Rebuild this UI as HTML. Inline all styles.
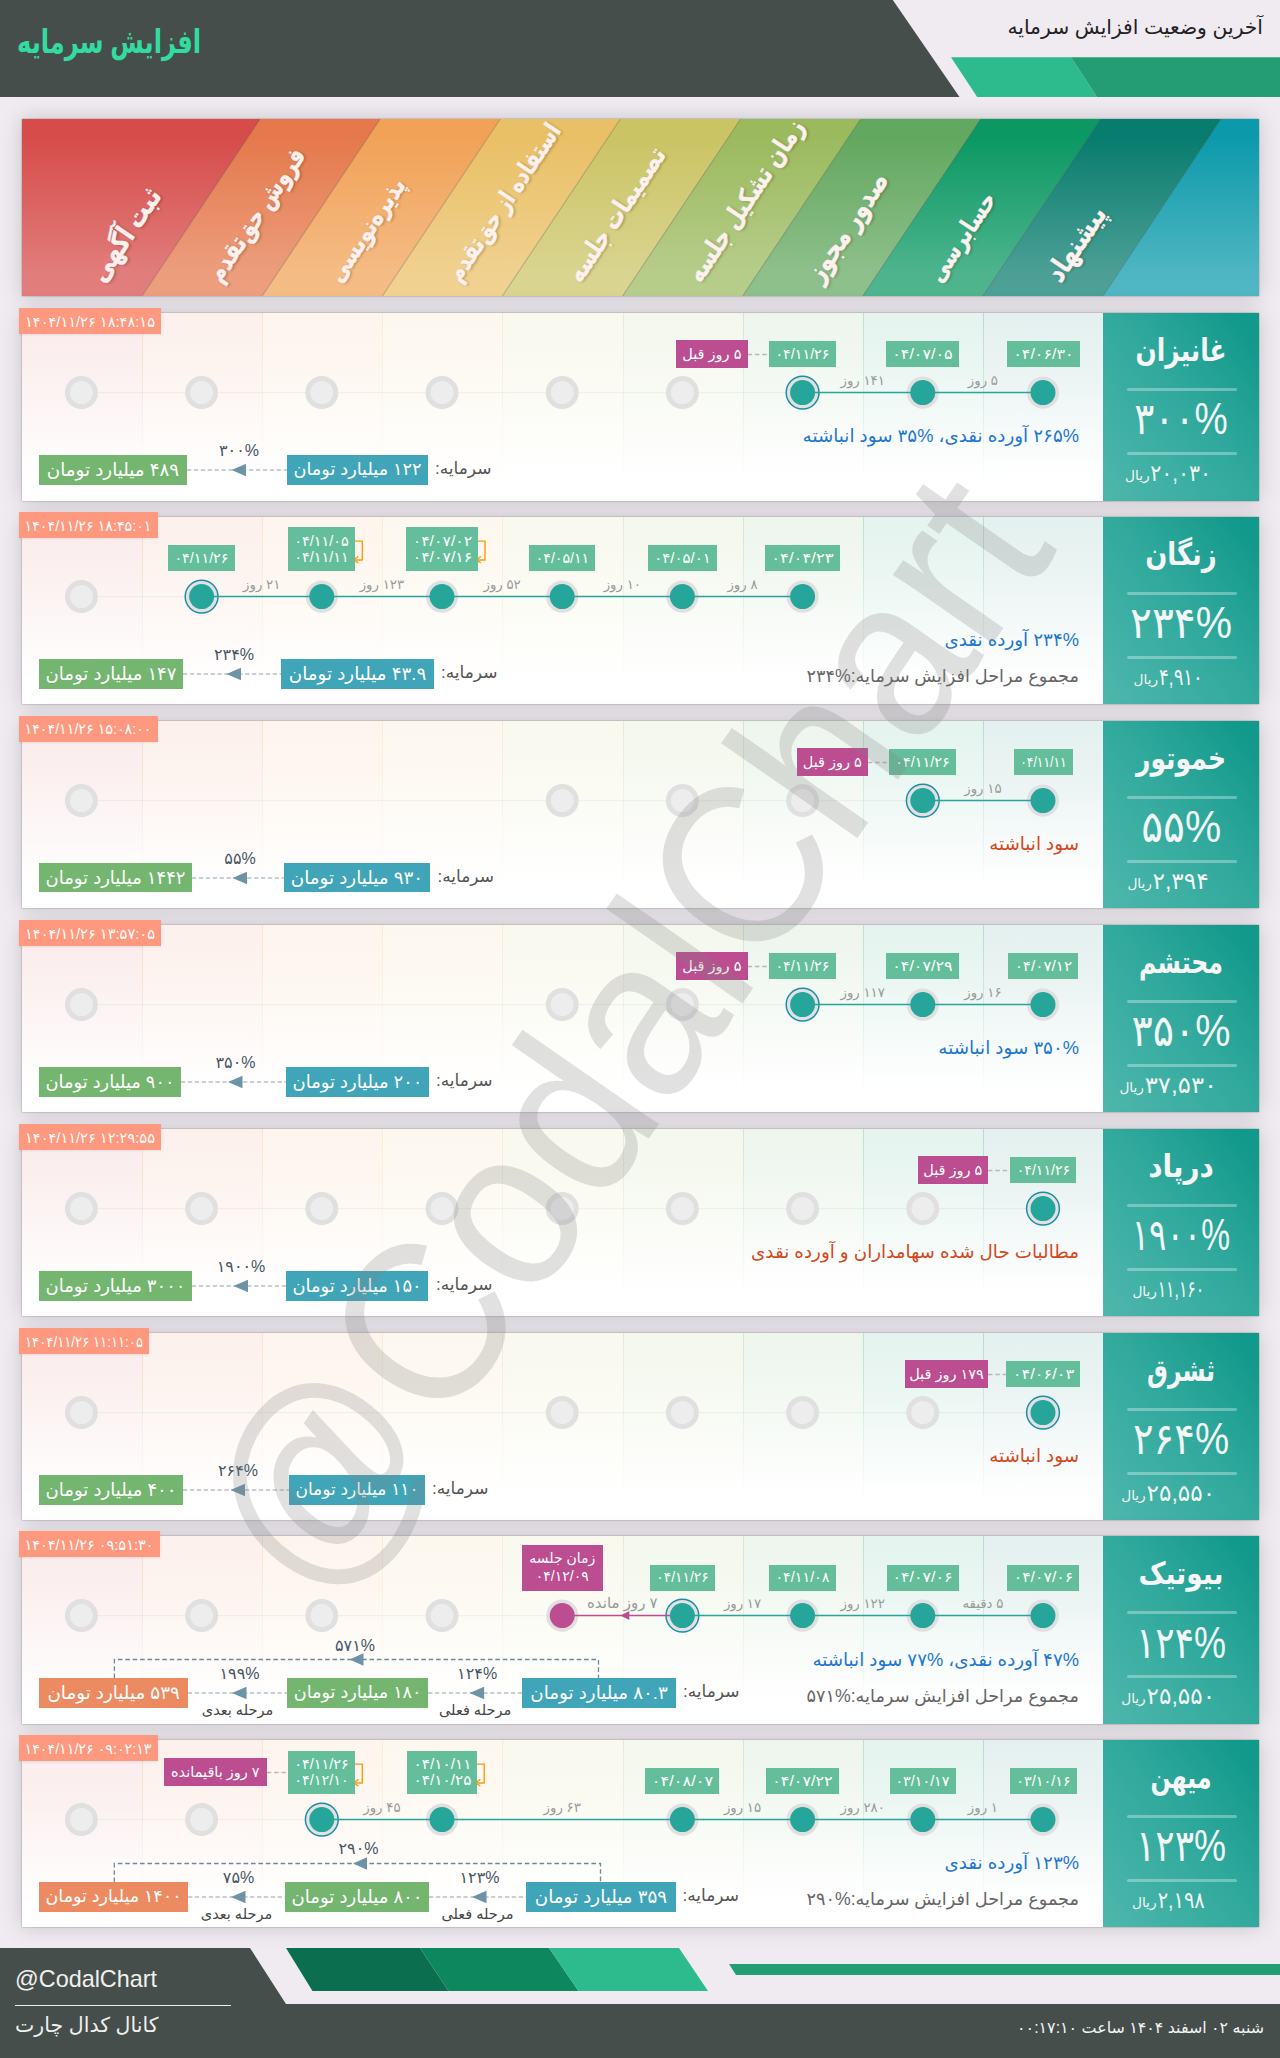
<!DOCTYPE html>
<html lang="fa"><head><meta charset="utf-8"><title>افزایش سرمایه</title>
<style>
*{box-sizing:border-box;margin:0;padding:0}
html,body{width:1280px;height:2058px;overflow:hidden}
body{background:#efebf1;position:relative;font-family:"Liberation Sans","DejaVu Sans",sans-serif;color:#333}
.abs{position:absolute}
.fa{direction:rtl;unicode-bidi:isolate;white-space:nowrap}
.ltr{direction:ltr;unicode-bidi:isolate;white-space:nowrap}
.sx{display:inline-block}
.c{display:flex;align-items:center;justify-content:center;white-space:nowrap}
.hdr-title{left:17px;top:17px;width:300px;height:50px;line-height:50px;color:#33dba0;font-weight:bold;font-size:33px;text-align:left;transform-origin:0 50%;transform:scaleX(.733)}
.hdr-sub{left:900px;top:12px;width:363px;height:30px;line-height:30px;color:#222;font-size:20.3px;text-align:right}
.band{left:22px;top:119px;width:1237px;height:177px;box-shadow:0 0 20px rgba(0,0,0,.17),0 0 1.5px rgba(0,0,0,.4);overflow:hidden}
.slabel{position:absolute;height:40px;line-height:40px;color:#fdf1ee;font-weight:bold;font-size:21px;transform-origin:0 50%;transform:rotate(-56.3deg) scaleX(.8);text-shadow:1px 2px 3px rgba(0,0,0,.22);-webkit-text-stroke:.4px #fdf1ee;white-space:nowrap;direction:rtl}
.row{position:absolute;left:0;width:1280px;height:188px}
.card{position:absolute;left:22px;top:0;width:1237px;height:188px;background:#fff;box-shadow:0 0 20px rgba(0,0,0,.17),0 0 1.5px rgba(0,0,0,.4)}
.col{position:absolute;top:0;height:100%}
.name{position:absolute;left:1081px;top:0;width:156px;height:100%;background:linear-gradient(232deg,#11998b 8%,#2fa89c 45%,#4fb7ac 100%)}
.nm{left:1083px;width:196px;top:15.5px;height:44px;color:#f6f6f6;font-weight:bold;font-size:31px;transform:scaleX(.806)}
.pct{left:1083px;width:196px;top:82px;height:48px;color:#f3f7f6;font-size:44px}
.prc{top:147.2px;height:26px;line-height:26px;color:#f3f7f6;font-size:23px;transform-origin:100% 50%}
.prs{top:151px;height:24px;line-height:24px;color:#f3f7f6;font-size:13.7px}
.hr{position:absolute;left:1126.5px;width:110px;height:3px;border-radius:2px;background:rgba(255,255,255,.32)}
.ts{left:19px;height:25.6px;background:#fe9980;color:#fff;font-size:14.6px;box-shadow:0 1px 2px rgba(0,0,0,.08)}
.tag{background:#65be9b;color:#fff;font-size:14px;line-height:16.7px;text-align:center;flex-direction:column}
.pink{background:#bb4d90;color:#fff;font-size:14.5px;line-height:18px;flex-direction:column}
.dur{color:#999;font-size:13.3px;height:18px}
.desc{left:600px;width:479px;height:26px;line-height:26px;font-size:18.3px;text-align:right}
.blue{color:#1e76d2}
.red{color:#d4481c}
.grey{color:#666;font-size:17.7px}
.cap{height:29px;color:#fff;font-size:18.3px}
.cb{background:#40a5b8}
.cg{background:#74b570}
.co{background:#ec8b62}
.caplbl{height:29px;line-height:29px;color:#555;font-size:17px;text-align:left}
.cpct{color:#445564;font-size:16px;height:20px}
.cstage{color:#444;font-size:14.5px;height:18px}
.wm{left:625px;top:1035px;width:0;height:0;overflow:visible}
.wm span{position:absolute;left:0;top:0;display:block;white-space:nowrap;font-size:229px;line-height:1;color:rgba(128,128,128,.24);transform:translate(-50%,-50%) rotate(-55.2deg) scaleX(.93);font-family:"Liberation Sans",sans-serif}
.ft1{left:15px;top:1964px;height:30px;line-height:30px;font-size:23.4px;color:#f0f0f0;text-align:left}
.ft2{left:15px;top:2010px;height:30px;line-height:30px;width:300px;font-size:20.5px;color:#f0f0f0;text-align:left}
.ft3{left:900px;top:2014px;height:28px;line-height:28px;width:364px;font-size:15.9px;color:#f4f4f4;text-align:right}
</style></head>
<body>
<svg class="abs" style="left:0;top:0" width="1280" height="100" viewBox="0 0 1280 100">
<polygon points="0,0 892.8,0 959.5,97 0,97" fill="#454e4a"/>
<polygon points="951,57.3 1071,57.3 1097,97 977.2,97" fill="#2dba8c"/>
<polygon points="1071,57.3 1280,57.3 1280,97 1097,97" fill="#249d74"/>
</svg>
<div class="abs fa hdr-title">افزایش سرمایه</div>
<div class="abs fa hdr-sub">آخرین وضعیت افزایش سرمایه</div>
<div class="abs band"><svg class="abs" style="left:0;top:0" width="1237" height="177" viewBox="0 0 1237 177"><defs><linearGradient id="lg" x1="0" y1="0" x2="0" y2="1"><stop offset="0.1" stop-color="#fff" stop-opacity="0"/><stop offset="0.86" stop-color="#fff" stop-opacity="0.27"/><stop offset="1" stop-color="#fff" stop-opacity="0.28"/></linearGradient></defs><polygon points="0.0,177 0.0,0 238.1,0 120.1,177" fill="#d64c4a"/><polygon points="120.1,177 238.1,0 358.2,0 240.2,177" fill="#e5794c"/><polygon points="240.2,177 358.2,0 478.3,0 360.3,177" fill="#f1a257"/><polygon points="360.3,177 478.3,0 598.4,0 480.4,177" fill="#eac066"/><polygon points="480.4,177 598.4,0 718.6,0 600.6,177" fill="#cbc465"/><polygon points="600.6,177 718.6,0 838.7,0 720.7,177" fill="#9bba5e"/><polygon points="720.7,177 838.7,0 958.8,0 840.8,177" fill="#63a85f"/><polygon points="840.8,177 958.8,0 1078.9,0 960.9,177" fill="#0b9863"/><polygon points="960.9,177 1078.9,0 1199.0,0 1081.0,177" fill="#087c6e"/><polygon points="1081.0,177 1199.0,0 1237.0,0 1237.0,177" fill="#0c9aab"/><rect x="0" y="0" width="1237" height="177" fill="url(#lg)"/><line x1="120.1" y1="177" x2="238.1" y2="0" stroke="rgba(0,0,0,.2)" stroke-width="1.1"/><line x1="240.2" y1="177" x2="358.2" y2="0" stroke="rgba(0,0,0,.2)" stroke-width="1.1"/><line x1="360.3" y1="177" x2="478.3" y2="0" stroke="rgba(0,0,0,.2)" stroke-width="1.1"/><line x1="480.4" y1="177" x2="598.4" y2="0" stroke="rgba(0,0,0,.2)" stroke-width="1.1"/><line x1="600.6" y1="177" x2="718.6" y2="0" stroke="rgba(0,0,0,.2)" stroke-width="1.1"/><line x1="720.7" y1="177" x2="838.7" y2="0" stroke="rgba(0,0,0,.2)" stroke-width="1.1"/><line x1="840.8" y1="177" x2="958.8" y2="0" stroke="rgba(0,0,0,.2)" stroke-width="1.1"/><line x1="960.9" y1="177" x2="1078.9" y2="0" stroke="rgba(0,0,0,.2)" stroke-width="1.1"/><line x1="1081.0" y1="177" x2="1199.0" y2="0" stroke="rgba(0,0,0,.2)" stroke-width="1.1"/></svg><div class="slabel" style="left:74.1px;top:140px;font-size:28.125px">ثبت آگهی</div><div class="slabel" style="left:190.7px;top:140px;font-size:25.5px">فروش حق‌تقدم</div><div class="slabel" style="left:310.8px;top:140px;font-size:25.0px">پذیره‌نویسی</div><div class="slabel" style="left:430.9px;top:140px;font-size:24.375px">استفاده از حق‌تقدم</div><div class="slabel" style="left:551.0px;top:140px;font-size:25.875px">تصمیمات جلسه</div><div class="slabel" style="left:671.1px;top:140px;font-size:26.25px">زمان تشکیل جلسه</div><div class="slabel" style="left:791.2px;top:140px;font-size:28.125px">صدور مجوز</div><div class="slabel" style="left:911.3px;top:140px;font-size:25.0px">حسابرسی</div><div class="slabel" style="left:1031.4px;top:140px;font-size:28.125px">پیشنهاد</div></div>
<div class="row" style="top:312.80px;height:188.0px"><div class="card" style="height:188.0px"><div class="col" style="left:0.00px;width:120.11px;background:linear-gradient(to bottom,rgba(214,76,74,.11) 0%,rgba(214,76,74,.09) 25%,rgba(214,76,74,.0) 88%)"></div><div class="col" style="left:120.11px;width:120.11px;background:linear-gradient(to bottom,rgba(229,121,76,.2) 0%,rgba(229,121,76,.13) 35%,rgba(229,121,76,.0) 92%) left top/1px 100% no-repeat,linear-gradient(to bottom,rgba(229,121,76,.11) 0%,rgba(229,121,76,.09) 25%,rgba(229,121,76,.0) 88%)"></div><div class="col" style="left:240.22px;width:120.11px;background:linear-gradient(to bottom,rgba(241,162,87,.2) 0%,rgba(241,162,87,.13) 35%,rgba(241,162,87,.0) 92%) left top/1px 100% no-repeat,linear-gradient(to bottom,rgba(241,162,87,.11) 0%,rgba(241,162,87,.09) 25%,rgba(241,162,87,.0) 88%)"></div><div class="col" style="left:360.33px;width:120.11px;background:linear-gradient(to bottom,rgba(234,192,102,.2) 0%,rgba(234,192,102,.13) 35%,rgba(234,192,102,.0) 92%) left top/1px 100% no-repeat,linear-gradient(to bottom,rgba(234,192,102,.11) 0%,rgba(234,192,102,.09) 25%,rgba(234,192,102,.0) 88%)"></div><div class="col" style="left:480.44px;width:120.11px;background:linear-gradient(to bottom,rgba(203,196,101,.2) 0%,rgba(203,196,101,.13) 35%,rgba(203,196,101,.0) 92%) left top/1px 100% no-repeat,linear-gradient(to bottom,rgba(203,196,101,.11) 0%,rgba(203,196,101,.09) 25%,rgba(203,196,101,.0) 88%)"></div><div class="col" style="left:600.56px;width:120.11px;background:linear-gradient(to bottom,rgba(155,186,94,.2) 0%,rgba(155,186,94,.13) 35%,rgba(155,186,94,.0) 92%) left top/1px 100% no-repeat,linear-gradient(to bottom,rgba(155,186,94,.11) 0%,rgba(155,186,94,.09) 25%,rgba(155,186,94,.0) 88%)"></div><div class="col" style="left:720.67px;width:120.11px;background:linear-gradient(to bottom,rgba(99,168,95,.2) 0%,rgba(99,168,95,.13) 35%,rgba(99,168,95,.0) 92%) left top/1px 100% no-repeat,linear-gradient(to bottom,rgba(99,168,95,.11) 0%,rgba(99,168,95,.09) 25%,rgba(99,168,95,.0) 88%)"></div><div class="col" style="left:840.78px;width:120.11px;background:linear-gradient(to bottom,rgba(11,152,99,.2) 0%,rgba(11,152,99,.13) 35%,rgba(11,152,99,.0) 92%) left top/1px 100% no-repeat,linear-gradient(to bottom,rgba(11,152,99,.11) 0%,rgba(11,152,99,.09) 25%,rgba(11,152,99,.0) 88%)"></div><div class="col" style="left:960.89px;width:120.11px;background:linear-gradient(to bottom,rgba(8,124,110,.2) 0%,rgba(8,124,110,.13) 35%,rgba(8,124,110,.0) 92%) left top/1px 100% no-repeat,linear-gradient(to bottom,rgba(8,124,110,.11) 0%,rgba(8,124,110,.09) 25%,rgba(8,124,110,.0) 88%)"></div><div class="name"></div></div><div class="abs c fa nm" style="transform:scaleX(0.802)">غانیزان</div><div class="hr" style="top:75.2px"></div><div class="abs c pct"><span class="ltr sx" style="transform:scaleX(0.850)">۳۰۰%</span></div><div class="hr" style="top:139.4px"></div><div class="abs fa prs" style="left:1125.1px">ریال</div><div class="abs ltr prc" style="right:68.7px;transform:scaleX(0.894)">۲۰,۰۳۰</div><div class="abs c ts" style="top:-4.6px;width:142px"><span class="ltr sx" style="transform:scaleX(1.000)">۱۴۰۴/۱۱/۲۶ ۱۸:۴۸:۱۵</span></div><svg class="abs" style="left:0;top:0" width="1280" height="188" viewBox="0 0 1280 188"><line x1="81.4" y1="79.6" x2="1043.0" y2="79.6" stroke="#000" stroke-opacity=".045" stroke-width="1.2"/><circle cx="81.4" cy="79.6" r="14" fill="#ededed" stroke="#e0e0e0" stroke-width="5"/><circle cx="201.6" cy="79.6" r="14" fill="#ededed" stroke="#e0e0e0" stroke-width="5"/><circle cx="321.8" cy="79.6" r="14" fill="#ededed" stroke="#e0e0e0" stroke-width="5"/><circle cx="442.0" cy="79.6" r="14" fill="#ededed" stroke="#e0e0e0" stroke-width="5"/><circle cx="562.2" cy="79.6" r="14" fill="#ededed" stroke="#e0e0e0" stroke-width="5"/><circle cx="682.4" cy="79.6" r="14" fill="#ededed" stroke="#e0e0e0" stroke-width="5"/><circle cx="1043.0" cy="79.6" r="16.1" fill="#e2dfe0"/><circle cx="922.8" cy="79.6" r="16.1" fill="#e2dfe0"/><circle cx="802.6" cy="79.6" r="16.4" fill="#e3e1e1" stroke="#1b8fa6" stroke-width="1.5"/><line x1="802.6" y1="79.6" x2="1043.0" y2="79.6" stroke="#26a69a" stroke-width="1.5"/><circle cx="1043.0" cy="79.6" r="12.5" fill="#26a69a"/><circle cx="922.8" cy="79.6" r="12.5" fill="#26a69a"/><circle cx="802.6" cy="79.6" r="12.5" fill="#26a69a"/><line x1="747.6" y1="41.5" x2="769.4" y2="41.5" stroke="#b8b8b8" stroke-width="1.3" stroke-dasharray="4.5,2.8"/><line x1="187.0" y1="157.0" x2="287.0" y2="157.0" stroke="#93a2ae" stroke-width="1.2" stroke-dasharray="4.3,2.6"/><polygon points="231.5,157.0 246.0,150.8 246.0,163.2" fill="#6f93a6"/></svg><div class="abs c tag" style="left:1006.5px;top:28.5px;width:73px;height:26.0px"><span class="ltr sx" style="transform:scaleX(1.144)">۰۴/۰۶/۳۰</span></div><div class="abs c tag" style="left:886.3px;top:28.5px;width:73px;height:26.0px"><span class="ltr sx" style="transform:scaleX(1.144)">۰۴/۰۷/۰۵</span></div><div class="abs c tag" style="left:769.4px;top:28.5px;width:66.5px;height:26.0px"><span class="ltr sx" style="transform:scaleX(1.021)">۰۴/۱۱/۲۶</span></div><div class="abs c fa pink" style="left:676.1px;top:27.5px;width:71.5px;height:28px">۵ روز قبل</div><div class="abs c fa dur" style="left:942.9px;width:80px;top:58.6px">۵ روز</div><div class="abs c fa dur" style="left:822.7px;width:80px;top:58.6px">۱۴۱ روز</div><div class="abs fa desc blue" style="top:110.5px"><span class="ltr">۲۶۵%</span> آورده نقدی، <span class="ltr">۳۵%</span> سود انباشته</div><div class="abs c fa cap cg" style="left:39px;top:142.2px;width:148.0px;height:29.6px;font-size:18.30px">۴۸۹ میلیارد تومان</div><div class="abs c fa cap cb" style="left:287px;top:142.2px;width:141.0px;height:29.6px;font-size:17.69px">۱۲۲ میلیارد تومان</div><div class="abs fa caplbl" style="left:435px;top:141.2px;width:62.0px">سرمایه:</div><div class="abs c fa cpct" style="left:199.0px;width:80px;top:127.7px"><span class="ltr">۳۰۰%</span></div></div>
<div class="row" style="top:516.80px;height:187.5px"><div class="card" style="height:187.5px"><div class="col" style="left:0.00px;width:120.11px;background:linear-gradient(to bottom,rgba(214,76,74,.11) 0%,rgba(214,76,74,.09) 25%,rgba(214,76,74,.0) 88%)"></div><div class="col" style="left:120.11px;width:120.11px;background:linear-gradient(to bottom,rgba(229,121,76,.2) 0%,rgba(229,121,76,.13) 35%,rgba(229,121,76,.0) 92%) left top/1px 100% no-repeat,linear-gradient(to bottom,rgba(229,121,76,.11) 0%,rgba(229,121,76,.09) 25%,rgba(229,121,76,.0) 88%)"></div><div class="col" style="left:240.22px;width:120.11px;background:linear-gradient(to bottom,rgba(241,162,87,.2) 0%,rgba(241,162,87,.13) 35%,rgba(241,162,87,.0) 92%) left top/1px 100% no-repeat,linear-gradient(to bottom,rgba(241,162,87,.11) 0%,rgba(241,162,87,.09) 25%,rgba(241,162,87,.0) 88%)"></div><div class="col" style="left:360.33px;width:120.11px;background:linear-gradient(to bottom,rgba(234,192,102,.2) 0%,rgba(234,192,102,.13) 35%,rgba(234,192,102,.0) 92%) left top/1px 100% no-repeat,linear-gradient(to bottom,rgba(234,192,102,.11) 0%,rgba(234,192,102,.09) 25%,rgba(234,192,102,.0) 88%)"></div><div class="col" style="left:480.44px;width:120.11px;background:linear-gradient(to bottom,rgba(203,196,101,.2) 0%,rgba(203,196,101,.13) 35%,rgba(203,196,101,.0) 92%) left top/1px 100% no-repeat,linear-gradient(to bottom,rgba(203,196,101,.11) 0%,rgba(203,196,101,.09) 25%,rgba(203,196,101,.0) 88%)"></div><div class="col" style="left:600.56px;width:120.11px;background:linear-gradient(to bottom,rgba(155,186,94,.2) 0%,rgba(155,186,94,.13) 35%,rgba(155,186,94,.0) 92%) left top/1px 100% no-repeat,linear-gradient(to bottom,rgba(155,186,94,.11) 0%,rgba(155,186,94,.09) 25%,rgba(155,186,94,.0) 88%)"></div><div class="col" style="left:720.67px;width:120.11px;background:linear-gradient(to bottom,rgba(99,168,95,.2) 0%,rgba(99,168,95,.13) 35%,rgba(99,168,95,.0) 92%) left top/1px 100% no-repeat,linear-gradient(to bottom,rgba(99,168,95,.11) 0%,rgba(99,168,95,.09) 25%,rgba(99,168,95,.0) 88%)"></div><div class="col" style="left:840.78px;width:120.11px;background:linear-gradient(to bottom,rgba(11,152,99,.2) 0%,rgba(11,152,99,.13) 35%,rgba(11,152,99,.0) 92%) left top/1px 100% no-repeat,linear-gradient(to bottom,rgba(11,152,99,.11) 0%,rgba(11,152,99,.09) 25%,rgba(11,152,99,.0) 88%)"></div><div class="col" style="left:960.89px;width:120.11px;background:linear-gradient(to bottom,rgba(8,124,110,.2) 0%,rgba(8,124,110,.13) 35%,rgba(8,124,110,.0) 92%) left top/1px 100% no-repeat,linear-gradient(to bottom,rgba(8,124,110,.11) 0%,rgba(8,124,110,.09) 25%,rgba(8,124,110,.0) 88%)"></div><div class="name"></div></div><div class="abs c fa nm" style="transform:scaleX(0.835)">زنگان</div><div class="hr" style="top:75.2px"></div><div class="abs c pct"><span class="ltr sx" style="transform:scaleX(0.927)">۲۳۴%</span></div><div class="hr" style="top:139.4px"></div><div class="abs fa prs" style="left:1133.6px">ریال</div><div class="abs ltr prc" style="right:77.2px;transform:scaleX(0.787)">۴,۹۱۰</div><div class="abs c ts" style="top:-4.6px;width:139px"><span class="ltr sx" style="transform:scaleX(0.977)">۱۴۰۴/۱۱/۲۶ ۱۸:۴۵:۰۱</span></div><svg class="abs" style="left:0;top:0" width="1280" height="188" viewBox="0 0 1280 188"><line x1="81.4" y1="79.6" x2="802.6" y2="79.6" stroke="#000" stroke-opacity=".045" stroke-width="1.2"/><circle cx="81.4" cy="79.6" r="14" fill="#ededed" stroke="#e0e0e0" stroke-width="5"/><circle cx="802.6" cy="79.6" r="16.1" fill="#e2dfe0"/><circle cx="682.4" cy="79.6" r="16.1" fill="#e2dfe0"/><circle cx="562.2" cy="79.6" r="16.1" fill="#e2dfe0"/><circle cx="442.0" cy="79.6" r="16.1" fill="#e2dfe0"/><circle cx="321.8" cy="79.6" r="16.1" fill="#e2dfe0"/><circle cx="201.6" cy="79.6" r="16.4" fill="#e3e1e1" stroke="#1b8fa6" stroke-width="1.5"/><line x1="201.6" y1="79.6" x2="802.6" y2="79.6" stroke="#26a69a" stroke-width="1.5"/><circle cx="802.6" cy="79.6" r="12.5" fill="#26a69a"/><circle cx="682.4" cy="79.6" r="12.5" fill="#26a69a"/><circle cx="562.2" cy="79.6" r="12.5" fill="#26a69a"/><circle cx="442.0" cy="79.6" r="12.5" fill="#26a69a"/><circle cx="321.8" cy="79.6" r="12.5" fill="#26a69a"/><circle cx="201.6" cy="79.6" r="12.5" fill="#26a69a"/><path d="M475.5,24.1 H485.0 V43.0 H476.5" fill="none" stroke="#ff9a0a" stroke-width="1.4"/><path d="M480.5,39.7 L476.3,43.0 L480.5,45.6" fill="none" stroke="#ff9a0a" stroke-width="1.4" stroke-linecap="round"/><path d="M352.8,24.1 H362.3 V43.0 H353.8" fill="none" stroke="#ff9a0a" stroke-width="1.4"/><path d="M357.8,39.7 L353.6,43.0 L357.8,45.6" fill="none" stroke="#ff9a0a" stroke-width="1.4" stroke-linecap="round"/><line x1="183.0" y1="157.0" x2="281.0" y2="157.0" stroke="#93a2ae" stroke-width="1.2" stroke-dasharray="4.3,2.6"/><polygon points="226.5,157.0 241.0,150.8 241.0,163.2" fill="#6f93a6"/></svg><div class="abs c tag" style="left:765.1px;top:28.5px;width:75px;height:26.0px"><span class="ltr sx" style="transform:scaleX(1.181)">۰۴/۰۴/۲۳</span></div><div class="abs c tag" style="left:647.9px;top:28.5px;width:69px;height:26.0px"><span class="ltr sx" style="transform:scaleX(1.068)">۰۴/۰۵/۰۱</span></div><div class="abs c tag" style="left:529.2px;top:28.5px;width:66px;height:26.0px"><span class="ltr sx" style="transform:scaleX(1.011)">۰۴/۰۵/۱۱</span></div><div class="abs c tag" style="left:406.0px;top:10.7px;width:72px;height:43.6px"><span class="ltr sx" style="transform:scaleX(1.125)">۰۴/۰۷/۰۲</span><span class="ltr sx" style="transform:scaleX(1.125)">۰۴/۰۷/۱۶</span></div><div class="abs c tag" style="left:288.3px;top:10.7px;width:67px;height:43.6px"><span class="ltr sx" style="transform:scaleX(1.030)">۰۴/۱۱/۰۵</span><span class="ltr sx" style="transform:scaleX(1.030)">۰۴/۱۱/۱۱</span></div><div class="abs c tag" style="left:168.4px;top:28.5px;width:66.5px;height:26.0px"><span class="ltr sx" style="transform:scaleX(1.021)">۰۴/۱۱/۲۶</span></div><div class="abs c fa dur" style="left:702.5px;width:80px;top:58.6px">۸ روز</div><div class="abs c fa dur" style="left:582.3px;width:80px;top:58.6px">۱۰ روز</div><div class="abs c fa dur" style="left:462.1px;width:80px;top:58.6px">۵۲ روز</div><div class="abs c fa dur" style="left:341.9px;width:80px;top:58.6px">۱۲۳ روز</div><div class="abs c fa dur" style="left:221.7px;width:80px;top:58.6px">۲۱ روز</div><div class="abs fa desc blue" style="top:110.5px"><span class="ltr">۲۳۴%</span> آورده نقدی</div><div class="abs fa desc grey" style="top:146.5px">مجموع مراحل افزایش سرمایه:<span class="ltr">۲۳۴%</span></div><div class="abs c fa cap cg" style="left:39px;top:142.2px;width:144.0px;height:29.6px;font-size:18.11px">۱۴۷ میلیارد تومان</div><div class="abs c fa cap cb" style="left:281px;top:142.2px;width:153.0px;height:29.6px;font-size:18.30px">۴۳.۹ میلیارد تومان</div><div class="abs fa caplbl" style="left:441px;top:141.2px;width:61.5px">سرمایه:</div><div class="abs c fa cpct" style="left:194.0px;width:80px;top:127.7px"><span class="ltr">۲۳۴%</span></div></div>
<div class="row" style="top:720.70px;height:187.5px"><div class="card" style="height:187.5px"><div class="col" style="left:0.00px;width:120.11px;background:linear-gradient(to bottom,rgba(214,76,74,.11) 0%,rgba(214,76,74,.09) 25%,rgba(214,76,74,.0) 88%)"></div><div class="col" style="left:120.11px;width:120.11px;background:linear-gradient(to bottom,rgba(229,121,76,.2) 0%,rgba(229,121,76,.13) 35%,rgba(229,121,76,.0) 92%) left top/1px 100% no-repeat,linear-gradient(to bottom,rgba(229,121,76,.11) 0%,rgba(229,121,76,.09) 25%,rgba(229,121,76,.0) 88%)"></div><div class="col" style="left:240.22px;width:120.11px;background:linear-gradient(to bottom,rgba(241,162,87,.2) 0%,rgba(241,162,87,.13) 35%,rgba(241,162,87,.0) 92%) left top/1px 100% no-repeat,linear-gradient(to bottom,rgba(241,162,87,.11) 0%,rgba(241,162,87,.09) 25%,rgba(241,162,87,.0) 88%)"></div><div class="col" style="left:360.33px;width:120.11px;background:linear-gradient(to bottom,rgba(234,192,102,.2) 0%,rgba(234,192,102,.13) 35%,rgba(234,192,102,.0) 92%) left top/1px 100% no-repeat,linear-gradient(to bottom,rgba(234,192,102,.11) 0%,rgba(234,192,102,.09) 25%,rgba(234,192,102,.0) 88%)"></div><div class="col" style="left:480.44px;width:120.11px;background:linear-gradient(to bottom,rgba(203,196,101,.2) 0%,rgba(203,196,101,.13) 35%,rgba(203,196,101,.0) 92%) left top/1px 100% no-repeat,linear-gradient(to bottom,rgba(203,196,101,.11) 0%,rgba(203,196,101,.09) 25%,rgba(203,196,101,.0) 88%)"></div><div class="col" style="left:600.56px;width:120.11px;background:linear-gradient(to bottom,rgba(155,186,94,.2) 0%,rgba(155,186,94,.13) 35%,rgba(155,186,94,.0) 92%) left top/1px 100% no-repeat,linear-gradient(to bottom,rgba(155,186,94,.11) 0%,rgba(155,186,94,.09) 25%,rgba(155,186,94,.0) 88%)"></div><div class="col" style="left:720.67px;width:120.11px;background:linear-gradient(to bottom,rgba(99,168,95,.2) 0%,rgba(99,168,95,.13) 35%,rgba(99,168,95,.0) 92%) left top/1px 100% no-repeat,linear-gradient(to bottom,rgba(99,168,95,.11) 0%,rgba(99,168,95,.09) 25%,rgba(99,168,95,.0) 88%)"></div><div class="col" style="left:840.78px;width:120.11px;background:linear-gradient(to bottom,rgba(11,152,99,.2) 0%,rgba(11,152,99,.13) 35%,rgba(11,152,99,.0) 92%) left top/1px 100% no-repeat,linear-gradient(to bottom,rgba(11,152,99,.11) 0%,rgba(11,152,99,.09) 25%,rgba(11,152,99,.0) 88%)"></div><div class="col" style="left:960.89px;width:120.11px;background:linear-gradient(to bottom,rgba(8,124,110,.2) 0%,rgba(8,124,110,.13) 35%,rgba(8,124,110,.0) 92%) left top/1px 100% no-repeat,linear-gradient(to bottom,rgba(8,124,110,.11) 0%,rgba(8,124,110,.09) 25%,rgba(8,124,110,.0) 88%)"></div><div class="name"></div></div><div class="abs c fa nm" style="transform:scaleX(0.807)">خموتور</div><div class="hr" style="top:75.2px"></div><div class="abs c pct"><span class="ltr sx" style="transform:scaleX(0.926)">۵۵%</span></div><div class="hr" style="top:139.4px"></div><div class="abs fa prs" style="left:1127.4px">ریال</div><div class="abs ltr prc" style="right:70.9px;transform:scaleX(1.011)">۲,۳۹۴</div><div class="abs c ts" style="top:-4.6px;width:139px"><span class="ltr sx" style="transform:scaleX(0.977)">۱۴۰۴/۱۱/۲۶ ۱۵:۰۸:۰۰</span></div><svg class="abs" style="left:0;top:0" width="1280" height="188" viewBox="0 0 1280 188"><line x1="81.4" y1="79.6" x2="1043.0" y2="79.6" stroke="#000" stroke-opacity=".045" stroke-width="1.2"/><circle cx="81.4" cy="79.6" r="14" fill="#ededed" stroke="#e0e0e0" stroke-width="5"/><circle cx="562.2" cy="79.6" r="14" fill="#ededed" stroke="#e0e0e0" stroke-width="5"/><circle cx="682.4" cy="79.6" r="14" fill="#ededed" stroke="#e0e0e0" stroke-width="5"/><circle cx="802.6" cy="79.6" r="14" fill="#ededed" stroke="#e0e0e0" stroke-width="5"/><circle cx="1043.0" cy="79.6" r="16.1" fill="#e2dfe0"/><circle cx="922.8" cy="79.6" r="16.4" fill="#e3e1e1" stroke="#1b8fa6" stroke-width="1.5"/><line x1="922.8" y1="79.6" x2="1043.0" y2="79.6" stroke="#26a69a" stroke-width="1.5"/><circle cx="1043.0" cy="79.6" r="12.5" fill="#26a69a"/><circle cx="922.8" cy="79.6" r="12.5" fill="#26a69a"/><line x1="867.8" y1="41.5" x2="889.3" y2="41.5" stroke="#b8b8b8" stroke-width="1.3" stroke-dasharray="4.5,2.8"/><line x1="192.0" y1="157.0" x2="284.0" y2="157.0" stroke="#93a2ae" stroke-width="1.2" stroke-dasharray="4.3,2.6"/><polygon points="232.5,157.0 247.0,150.8 247.0,163.2" fill="#6f93a6"/></svg><div class="abs c tag" style="left:1013.5px;top:28.5px;width:59px;height:26.0px"><span class="ltr sx" style="transform:scaleX(0.879)">۰۴/۱۱/۱۱</span></div><div class="abs c tag" style="left:889.3px;top:28.5px;width:67px;height:26.0px"><span class="ltr sx" style="transform:scaleX(1.030)">۰۴/۱۱/۲۶</span></div><div class="abs c fa pink" style="left:796.8px;top:27.5px;width:71px;height:28px">۵ روز قبل</div><div class="abs c fa dur" style="left:942.9px;width:80px;top:58.6px">۱۵ روز</div><div class="abs fa desc red" style="top:110.5px">سود انباشته</div><div class="abs c fa cap cg" style="left:39px;top:142.2px;width:153.0px;height:29.6px;font-size:18.02px">۱۴۴۲ میلیارد تومان</div><div class="abs c fa cap cb" style="left:284px;top:142.2px;width:146.0px;height:29.6px;font-size:18.30px">۹۳۰ میلیارد تومان</div><div class="abs fa caplbl" style="left:437.5px;top:141.2px;width:61.0px">سرمایه:</div><div class="abs c fa cpct" style="left:200.0px;width:80px;top:127.7px"><span class="ltr">۵۵%</span></div></div>
<div class="row" style="top:924.80px;height:187.2px"><div class="card" style="height:187.2px"><div class="col" style="left:0.00px;width:120.11px;background:linear-gradient(to bottom,rgba(214,76,74,.11) 0%,rgba(214,76,74,.09) 25%,rgba(214,76,74,.0) 88%)"></div><div class="col" style="left:120.11px;width:120.11px;background:linear-gradient(to bottom,rgba(229,121,76,.2) 0%,rgba(229,121,76,.13) 35%,rgba(229,121,76,.0) 92%) left top/1px 100% no-repeat,linear-gradient(to bottom,rgba(229,121,76,.11) 0%,rgba(229,121,76,.09) 25%,rgba(229,121,76,.0) 88%)"></div><div class="col" style="left:240.22px;width:120.11px;background:linear-gradient(to bottom,rgba(241,162,87,.2) 0%,rgba(241,162,87,.13) 35%,rgba(241,162,87,.0) 92%) left top/1px 100% no-repeat,linear-gradient(to bottom,rgba(241,162,87,.11) 0%,rgba(241,162,87,.09) 25%,rgba(241,162,87,.0) 88%)"></div><div class="col" style="left:360.33px;width:120.11px;background:linear-gradient(to bottom,rgba(234,192,102,.2) 0%,rgba(234,192,102,.13) 35%,rgba(234,192,102,.0) 92%) left top/1px 100% no-repeat,linear-gradient(to bottom,rgba(234,192,102,.11) 0%,rgba(234,192,102,.09) 25%,rgba(234,192,102,.0) 88%)"></div><div class="col" style="left:480.44px;width:120.11px;background:linear-gradient(to bottom,rgba(203,196,101,.2) 0%,rgba(203,196,101,.13) 35%,rgba(203,196,101,.0) 92%) left top/1px 100% no-repeat,linear-gradient(to bottom,rgba(203,196,101,.11) 0%,rgba(203,196,101,.09) 25%,rgba(203,196,101,.0) 88%)"></div><div class="col" style="left:600.56px;width:120.11px;background:linear-gradient(to bottom,rgba(155,186,94,.2) 0%,rgba(155,186,94,.13) 35%,rgba(155,186,94,.0) 92%) left top/1px 100% no-repeat,linear-gradient(to bottom,rgba(155,186,94,.11) 0%,rgba(155,186,94,.09) 25%,rgba(155,186,94,.0) 88%)"></div><div class="col" style="left:720.67px;width:120.11px;background:linear-gradient(to bottom,rgba(99,168,95,.2) 0%,rgba(99,168,95,.13) 35%,rgba(99,168,95,.0) 92%) left top/1px 100% no-repeat,linear-gradient(to bottom,rgba(99,168,95,.11) 0%,rgba(99,168,95,.09) 25%,rgba(99,168,95,.0) 88%)"></div><div class="col" style="left:840.78px;width:120.11px;background:linear-gradient(to bottom,rgba(11,152,99,.2) 0%,rgba(11,152,99,.13) 35%,rgba(11,152,99,.0) 92%) left top/1px 100% no-repeat,linear-gradient(to bottom,rgba(11,152,99,.11) 0%,rgba(11,152,99,.09) 25%,rgba(11,152,99,.0) 88%)"></div><div class="col" style="left:960.89px;width:120.11px;background:linear-gradient(to bottom,rgba(8,124,110,.2) 0%,rgba(8,124,110,.13) 35%,rgba(8,124,110,.0) 92%) left top/1px 100% no-repeat,linear-gradient(to bottom,rgba(8,124,110,.11) 0%,rgba(8,124,110,.09) 25%,rgba(8,124,110,.0) 88%)"></div><div class="name"></div></div><div class="abs c fa nm" style="transform:scaleX(0.762)">محتشم</div><div class="hr" style="top:75.2px"></div><div class="abs c pct"><span class="ltr sx" style="transform:scaleX(0.900)">۳۵۰%</span></div><div class="hr" style="top:139.4px"></div><div class="abs fa prs" style="left:1119.4px">ریال</div><div class="abs ltr prc" style="right:62.9px;transform:scaleX(1.063)">۳۷,۵۳۰</div><div class="abs c ts" style="top:-4.6px;width:142px"><span class="ltr sx" style="transform:scaleX(1.000)">۱۴۰۴/۱۱/۲۶ ۱۳:۵۷:۰۵</span></div><svg class="abs" style="left:0;top:0" width="1280" height="188" viewBox="0 0 1280 188"><line x1="81.4" y1="79.6" x2="1043.0" y2="79.6" stroke="#000" stroke-opacity=".045" stroke-width="1.2"/><circle cx="81.4" cy="79.6" r="14" fill="#ededed" stroke="#e0e0e0" stroke-width="5"/><circle cx="562.2" cy="79.6" r="14" fill="#ededed" stroke="#e0e0e0" stroke-width="5"/><circle cx="682.4" cy="79.6" r="14" fill="#ededed" stroke="#e0e0e0" stroke-width="5"/><circle cx="1043.0" cy="79.6" r="16.1" fill="#e2dfe0"/><circle cx="922.8" cy="79.6" r="16.1" fill="#e2dfe0"/><circle cx="802.6" cy="79.6" r="16.4" fill="#e3e1e1" stroke="#1b8fa6" stroke-width="1.5"/><line x1="802.6" y1="79.6" x2="1043.0" y2="79.6" stroke="#26a69a" stroke-width="1.5"/><circle cx="1043.0" cy="79.6" r="12.5" fill="#26a69a"/><circle cx="922.8" cy="79.6" r="12.5" fill="#26a69a"/><circle cx="802.6" cy="79.6" r="12.5" fill="#26a69a"/><line x1="747.6" y1="41.5" x2="769.4" y2="41.5" stroke="#b8b8b8" stroke-width="1.3" stroke-dasharray="4.5,2.8"/><line x1="181.0" y1="157.0" x2="286.0" y2="157.0" stroke="#93a2ae" stroke-width="1.2" stroke-dasharray="4.3,2.6"/><polygon points="228.0,157.0 242.5,150.8 242.5,163.2" fill="#6f93a6"/></svg><div class="abs c tag" style="left:1008.0px;top:28.5px;width:70px;height:26.0px"><span class="ltr sx" style="transform:scaleX(1.087)">۰۴/۰۷/۱۲</span></div><div class="abs c tag" style="left:886.3px;top:28.5px;width:73px;height:26.0px"><span class="ltr sx" style="transform:scaleX(1.144)">۰۴/۰۷/۲۹</span></div><div class="abs c tag" style="left:769.4px;top:28.5px;width:66.5px;height:26.0px"><span class="ltr sx" style="transform:scaleX(1.021)">۰۴/۱۱/۲۶</span></div><div class="abs c fa pink" style="left:676.1px;top:27.5px;width:71.5px;height:28px">۵ روز قبل</div><div class="abs c fa dur" style="left:942.9px;width:80px;top:58.6px">۱۶ روز</div><div class="abs c fa dur" style="left:822.7px;width:80px;top:58.6px">۱۱۷ روز</div><div class="abs fa desc blue" style="top:110.5px"><span class="ltr">۳۵۰%</span> سود انباشته</div><div class="abs c fa cap cg" style="left:39px;top:142.2px;width:142.0px;height:29.6px;font-size:17.83px">۹۰۰ میلیارد تومان</div><div class="abs c fa cap cb" style="left:286px;top:142.2px;width:143.0px;height:29.6px;font-size:17.97px">۲۰۰ میلیارد تومان</div><div class="abs fa caplbl" style="left:436px;top:141.2px;width:62.0px">سرمایه:</div><div class="abs c fa cpct" style="left:195.5px;width:80px;top:127.7px"><span class="ltr">۳۵۰%</span></div></div>
<div class="row" style="top:1128.80px;height:187.2px"><div class="card" style="height:187.2px"><div class="col" style="left:0.00px;width:120.11px;background:linear-gradient(to bottom,rgba(214,76,74,.11) 0%,rgba(214,76,74,.09) 25%,rgba(214,76,74,.0) 88%)"></div><div class="col" style="left:120.11px;width:120.11px;background:linear-gradient(to bottom,rgba(229,121,76,.2) 0%,rgba(229,121,76,.13) 35%,rgba(229,121,76,.0) 92%) left top/1px 100% no-repeat,linear-gradient(to bottom,rgba(229,121,76,.11) 0%,rgba(229,121,76,.09) 25%,rgba(229,121,76,.0) 88%)"></div><div class="col" style="left:240.22px;width:120.11px;background:linear-gradient(to bottom,rgba(241,162,87,.2) 0%,rgba(241,162,87,.13) 35%,rgba(241,162,87,.0) 92%) left top/1px 100% no-repeat,linear-gradient(to bottom,rgba(241,162,87,.11) 0%,rgba(241,162,87,.09) 25%,rgba(241,162,87,.0) 88%)"></div><div class="col" style="left:360.33px;width:120.11px;background:linear-gradient(to bottom,rgba(234,192,102,.2) 0%,rgba(234,192,102,.13) 35%,rgba(234,192,102,.0) 92%) left top/1px 100% no-repeat,linear-gradient(to bottom,rgba(234,192,102,.11) 0%,rgba(234,192,102,.09) 25%,rgba(234,192,102,.0) 88%)"></div><div class="col" style="left:480.44px;width:120.11px;background:linear-gradient(to bottom,rgba(203,196,101,.2) 0%,rgba(203,196,101,.13) 35%,rgba(203,196,101,.0) 92%) left top/1px 100% no-repeat,linear-gradient(to bottom,rgba(203,196,101,.11) 0%,rgba(203,196,101,.09) 25%,rgba(203,196,101,.0) 88%)"></div><div class="col" style="left:600.56px;width:120.11px;background:linear-gradient(to bottom,rgba(155,186,94,.2) 0%,rgba(155,186,94,.13) 35%,rgba(155,186,94,.0) 92%) left top/1px 100% no-repeat,linear-gradient(to bottom,rgba(155,186,94,.11) 0%,rgba(155,186,94,.09) 25%,rgba(155,186,94,.0) 88%)"></div><div class="col" style="left:720.67px;width:120.11px;background:linear-gradient(to bottom,rgba(99,168,95,.2) 0%,rgba(99,168,95,.13) 35%,rgba(99,168,95,.0) 92%) left top/1px 100% no-repeat,linear-gradient(to bottom,rgba(99,168,95,.11) 0%,rgba(99,168,95,.09) 25%,rgba(99,168,95,.0) 88%)"></div><div class="col" style="left:840.78px;width:120.11px;background:linear-gradient(to bottom,rgba(11,152,99,.2) 0%,rgba(11,152,99,.13) 35%,rgba(11,152,99,.0) 92%) left top/1px 100% no-repeat,linear-gradient(to bottom,rgba(11,152,99,.11) 0%,rgba(11,152,99,.09) 25%,rgba(11,152,99,.0) 88%)"></div><div class="col" style="left:960.89px;width:120.11px;background:linear-gradient(to bottom,rgba(8,124,110,.2) 0%,rgba(8,124,110,.13) 35%,rgba(8,124,110,.0) 92%) left top/1px 100% no-repeat,linear-gradient(to bottom,rgba(8,124,110,.11) 0%,rgba(8,124,110,.09) 25%,rgba(8,124,110,.0) 88%)"></div><div class="name"></div></div><div class="abs c fa nm" style="transform:scaleX(0.899)">درپاد</div><div class="hr" style="top:75.2px"></div><div class="abs c pct"><span class="ltr sx" style="transform:scaleX(0.736)">۱۹۰۰%</span></div><div class="hr" style="top:139.4px"></div><div class="abs fa prs" style="left:1132.4px">ریال</div><div class="abs ltr prc" style="right:75.9px;transform:scaleX(0.682)">۱۱,۱۶۰</div><div class="abs c ts" style="top:-4.6px;width:142px"><span class="ltr sx" style="transform:scaleX(1.000)">۱۴۰۴/۱۱/۲۶ ۱۲:۲۹:۵۵</span></div><svg class="abs" style="left:0;top:0" width="1280" height="188" viewBox="0 0 1280 188"><line x1="81.4" y1="79.6" x2="1043.0" y2="79.6" stroke="#000" stroke-opacity=".045" stroke-width="1.2"/><circle cx="81.4" cy="79.6" r="14" fill="#ededed" stroke="#e0e0e0" stroke-width="5"/><circle cx="201.6" cy="79.6" r="14" fill="#ededed" stroke="#e0e0e0" stroke-width="5"/><circle cx="321.8" cy="79.6" r="14" fill="#ededed" stroke="#e0e0e0" stroke-width="5"/><circle cx="442.0" cy="79.6" r="14" fill="#ededed" stroke="#e0e0e0" stroke-width="5"/><circle cx="562.2" cy="79.6" r="14" fill="#ededed" stroke="#e0e0e0" stroke-width="5"/><circle cx="682.4" cy="79.6" r="14" fill="#ededed" stroke="#e0e0e0" stroke-width="5"/><circle cx="802.6" cy="79.6" r="14" fill="#ededed" stroke="#e0e0e0" stroke-width="5"/><circle cx="922.8" cy="79.6" r="14" fill="#ededed" stroke="#e0e0e0" stroke-width="5"/><circle cx="1043.0" cy="79.6" r="16.4" fill="#e3e1e1" stroke="#1b8fa6" stroke-width="1.5"/><circle cx="1043.0" cy="79.6" r="12.5" fill="#26a69a"/><line x1="988.0" y1="41.5" x2="1010.0" y2="41.5" stroke="#b8b8b8" stroke-width="1.3" stroke-dasharray="4.5,2.8"/><line x1="192.0" y1="157.0" x2="286.0" y2="157.0" stroke="#93a2ae" stroke-width="1.2" stroke-dasharray="4.3,2.6"/><polygon points="233.5,157.0 248.0,150.8 248.0,163.2" fill="#6f93a6"/></svg><div class="abs c tag" style="left:1010.0px;top:28.5px;width:66px;height:26.0px"><span class="ltr sx" style="transform:scaleX(1.011)">۰۴/۱۱/۲۶</span></div><div class="abs c fa pink" style="left:917.5px;top:27.5px;width:70.5px;height:28px">۵ روز قبل</div><div class="abs fa desc red" style="top:110.5px">مطالبات حال شده سهامداران و آورده نقدی</div><div class="abs c fa cap cg" style="left:39px;top:142.2px;width:153.0px;height:29.6px;font-size:18.02px">۳۰۰۰ میلیارد تومان</div><div class="abs c fa cap cb" style="left:286px;top:142.2px;width:142.0px;height:29.6px;font-size:17.83px">۱۵۰ میلیارد تومان</div><div class="abs fa caplbl" style="left:436px;top:141.2px;width:61.0px">سرمایه:</div><div class="abs c fa cpct" style="left:201.0px;width:80px;top:127.7px"><span class="ltr">۱۹۰۰%</span></div></div>
<div class="row" style="top:1332.80px;height:187.2px"><div class="card" style="height:187.2px"><div class="col" style="left:0.00px;width:120.11px;background:linear-gradient(to bottom,rgba(214,76,74,.11) 0%,rgba(214,76,74,.09) 25%,rgba(214,76,74,.0) 88%)"></div><div class="col" style="left:120.11px;width:120.11px;background:linear-gradient(to bottom,rgba(229,121,76,.2) 0%,rgba(229,121,76,.13) 35%,rgba(229,121,76,.0) 92%) left top/1px 100% no-repeat,linear-gradient(to bottom,rgba(229,121,76,.11) 0%,rgba(229,121,76,.09) 25%,rgba(229,121,76,.0) 88%)"></div><div class="col" style="left:240.22px;width:120.11px;background:linear-gradient(to bottom,rgba(241,162,87,.2) 0%,rgba(241,162,87,.13) 35%,rgba(241,162,87,.0) 92%) left top/1px 100% no-repeat,linear-gradient(to bottom,rgba(241,162,87,.11) 0%,rgba(241,162,87,.09) 25%,rgba(241,162,87,.0) 88%)"></div><div class="col" style="left:360.33px;width:120.11px;background:linear-gradient(to bottom,rgba(234,192,102,.2) 0%,rgba(234,192,102,.13) 35%,rgba(234,192,102,.0) 92%) left top/1px 100% no-repeat,linear-gradient(to bottom,rgba(234,192,102,.11) 0%,rgba(234,192,102,.09) 25%,rgba(234,192,102,.0) 88%)"></div><div class="col" style="left:480.44px;width:120.11px;background:linear-gradient(to bottom,rgba(203,196,101,.2) 0%,rgba(203,196,101,.13) 35%,rgba(203,196,101,.0) 92%) left top/1px 100% no-repeat,linear-gradient(to bottom,rgba(203,196,101,.11) 0%,rgba(203,196,101,.09) 25%,rgba(203,196,101,.0) 88%)"></div><div class="col" style="left:600.56px;width:120.11px;background:linear-gradient(to bottom,rgba(155,186,94,.2) 0%,rgba(155,186,94,.13) 35%,rgba(155,186,94,.0) 92%) left top/1px 100% no-repeat,linear-gradient(to bottom,rgba(155,186,94,.11) 0%,rgba(155,186,94,.09) 25%,rgba(155,186,94,.0) 88%)"></div><div class="col" style="left:720.67px;width:120.11px;background:linear-gradient(to bottom,rgba(99,168,95,.2) 0%,rgba(99,168,95,.13) 35%,rgba(99,168,95,.0) 92%) left top/1px 100% no-repeat,linear-gradient(to bottom,rgba(99,168,95,.11) 0%,rgba(99,168,95,.09) 25%,rgba(99,168,95,.0) 88%)"></div><div class="col" style="left:840.78px;width:120.11px;background:linear-gradient(to bottom,rgba(11,152,99,.2) 0%,rgba(11,152,99,.13) 35%,rgba(11,152,99,.0) 92%) left top/1px 100% no-repeat,linear-gradient(to bottom,rgba(11,152,99,.11) 0%,rgba(11,152,99,.09) 25%,rgba(11,152,99,.0) 88%)"></div><div class="col" style="left:960.89px;width:120.11px;background:linear-gradient(to bottom,rgba(8,124,110,.2) 0%,rgba(8,124,110,.13) 35%,rgba(8,124,110,.0) 92%) left top/1px 100% no-repeat,linear-gradient(to bottom,rgba(8,124,110,.11) 0%,rgba(8,124,110,.09) 25%,rgba(8,124,110,.0) 88%)"></div><div class="name"></div></div><div class="abs c fa nm" style="transform:scaleX(0.753)">ثشرق</div><div class="hr" style="top:75.2px"></div><div class="abs c pct"><span class="ltr sx" style="transform:scaleX(0.873)">۲۶۴%</span></div><div class="hr" style="top:139.4px"></div><div class="abs fa prs" style="left:1121.2px">ریال</div><div class="abs ltr prc" style="right:64.8px;transform:scaleX(1.007)">۲۵,۵۵۰</div><div class="abs c ts" style="top:-4.6px;width:130px"><span class="ltr sx" style="transform:scaleX(0.908)">۱۴۰۴/۱۱/۲۶ ۱۱:۱۱:۰۵</span></div><svg class="abs" style="left:0;top:0" width="1280" height="188" viewBox="0 0 1280 188"><line x1="81.4" y1="79.6" x2="1043.0" y2="79.6" stroke="#000" stroke-opacity=".045" stroke-width="1.2"/><circle cx="81.4" cy="79.6" r="14" fill="#ededed" stroke="#e0e0e0" stroke-width="5"/><circle cx="562.2" cy="79.6" r="14" fill="#ededed" stroke="#e0e0e0" stroke-width="5"/><circle cx="682.4" cy="79.6" r="14" fill="#ededed" stroke="#e0e0e0" stroke-width="5"/><circle cx="802.6" cy="79.6" r="14" fill="#ededed" stroke="#e0e0e0" stroke-width="5"/><circle cx="922.8" cy="79.6" r="14" fill="#ededed" stroke="#e0e0e0" stroke-width="5"/><circle cx="1043.0" cy="79.6" r="16.4" fill="#e3e1e1" stroke="#1b8fa6" stroke-width="1.5"/><circle cx="1043.0" cy="79.6" r="12.5" fill="#26a69a"/><line x1="988.0" y1="41.5" x2="1006.0" y2="41.5" stroke="#b8b8b8" stroke-width="1.3" stroke-dasharray="4.5,2.8"/><line x1="183.0" y1="157.0" x2="289.0" y2="157.0" stroke="#93a2ae" stroke-width="1.2" stroke-dasharray="4.3,2.6"/><polygon points="230.5,157.0 245.0,150.8 245.0,163.2" fill="#6f93a6"/></svg><div class="abs c tag" style="left:1006.0px;top:28.5px;width:74px;height:26.0px"><span class="ltr sx" style="transform:scaleX(1.163)">۰۴/۰۶/۰۳</span></div><div class="abs c fa pink" style="left:905.0px;top:27.5px;width:83px;height:28px">۱۷۹ روز قبل</div><div class="abs fa desc red" style="top:110.5px">سود انباشته</div><div class="abs c fa cap cg" style="left:39px;top:142.2px;width:144.0px;height:29.6px;font-size:18.11px">۴۰۰ میلیارد تومان</div><div class="abs c fa cap cb" style="left:289px;top:142.2px;width:136.0px;height:29.6px;font-size:17.00px">۱۱۰ میلیارد تومان</div><div class="abs fa caplbl" style="left:432px;top:141.2px;width:61.0px">سرمایه:</div><div class="abs c fa cpct" style="left:198.0px;width:80px;top:127.7px"><span class="ltr">۲۶۴%</span></div></div>
<div class="row" style="top:1536.00px;height:188.0px"><div class="card" style="height:188.0px"><div class="col" style="left:0.00px;width:120.11px;background:linear-gradient(to bottom,rgba(214,76,74,.11) 0%,rgba(214,76,74,.09) 25%,rgba(214,76,74,.0) 88%)"></div><div class="col" style="left:120.11px;width:120.11px;background:linear-gradient(to bottom,rgba(229,121,76,.2) 0%,rgba(229,121,76,.13) 35%,rgba(229,121,76,.0) 92%) left top/1px 100% no-repeat,linear-gradient(to bottom,rgba(229,121,76,.11) 0%,rgba(229,121,76,.09) 25%,rgba(229,121,76,.0) 88%)"></div><div class="col" style="left:240.22px;width:120.11px;background:linear-gradient(to bottom,rgba(241,162,87,.2) 0%,rgba(241,162,87,.13) 35%,rgba(241,162,87,.0) 92%) left top/1px 100% no-repeat,linear-gradient(to bottom,rgba(241,162,87,.11) 0%,rgba(241,162,87,.09) 25%,rgba(241,162,87,.0) 88%)"></div><div class="col" style="left:360.33px;width:120.11px;background:linear-gradient(to bottom,rgba(234,192,102,.2) 0%,rgba(234,192,102,.13) 35%,rgba(234,192,102,.0) 92%) left top/1px 100% no-repeat,linear-gradient(to bottom,rgba(234,192,102,.11) 0%,rgba(234,192,102,.09) 25%,rgba(234,192,102,.0) 88%)"></div><div class="col" style="left:480.44px;width:120.11px;background:linear-gradient(to bottom,rgba(203,196,101,.2) 0%,rgba(203,196,101,.13) 35%,rgba(203,196,101,.0) 92%) left top/1px 100% no-repeat,linear-gradient(to bottom,rgba(203,196,101,.11) 0%,rgba(203,196,101,.09) 25%,rgba(203,196,101,.0) 88%)"></div><div class="col" style="left:600.56px;width:120.11px;background:linear-gradient(to bottom,rgba(155,186,94,.2) 0%,rgba(155,186,94,.13) 35%,rgba(155,186,94,.0) 92%) left top/1px 100% no-repeat,linear-gradient(to bottom,rgba(155,186,94,.11) 0%,rgba(155,186,94,.09) 25%,rgba(155,186,94,.0) 88%)"></div><div class="col" style="left:720.67px;width:120.11px;background:linear-gradient(to bottom,rgba(99,168,95,.2) 0%,rgba(99,168,95,.13) 35%,rgba(99,168,95,.0) 92%) left top/1px 100% no-repeat,linear-gradient(to bottom,rgba(99,168,95,.11) 0%,rgba(99,168,95,.09) 25%,rgba(99,168,95,.0) 88%)"></div><div class="col" style="left:840.78px;width:120.11px;background:linear-gradient(to bottom,rgba(11,152,99,.2) 0%,rgba(11,152,99,.13) 35%,rgba(11,152,99,.0) 92%) left top/1px 100% no-repeat,linear-gradient(to bottom,rgba(11,152,99,.11) 0%,rgba(11,152,99,.09) 25%,rgba(11,152,99,.0) 88%)"></div><div class="col" style="left:960.89px;width:120.11px;background:linear-gradient(to bottom,rgba(8,124,110,.2) 0%,rgba(8,124,110,.13) 35%,rgba(8,124,110,.0) 92%) left top/1px 100% no-repeat,linear-gradient(to bottom,rgba(8,124,110,.11) 0%,rgba(8,124,110,.09) 25%,rgba(8,124,110,.0) 88%)"></div><div class="name"></div></div><div class="abs c fa nm" style="transform:scaleX(0.851)">بیوتیک</div><div class="hr" style="top:75.2px"></div><div class="abs c pct"><span class="ltr sx" style="transform:scaleX(0.818)">۱۲۴%</span></div><div class="hr" style="top:139.4px"></div><div class="abs fa prs" style="left:1121.2px">ریال</div><div class="abs ltr prc" style="right:64.8px;transform:scaleX(1.007)">۲۵,۵۵۰</div><div class="abs c ts" style="top:-4.6px;width:141px"><span class="ltr sx" style="transform:scaleX(0.992)">۱۴۰۴/۱۱/۲۶ ۰۹:۵۱:۳۰</span></div><svg class="abs" style="left:0;top:0" width="1280" height="188" viewBox="0 0 1280 188"><line x1="81.4" y1="79.6" x2="1043.0" y2="79.6" stroke="#000" stroke-opacity=".045" stroke-width="1.2"/><circle cx="81.4" cy="79.6" r="14" fill="#ededed" stroke="#e0e0e0" stroke-width="5"/><circle cx="201.6" cy="79.6" r="14" fill="#ededed" stroke="#e0e0e0" stroke-width="5"/><circle cx="321.8" cy="79.6" r="14" fill="#ededed" stroke="#e0e0e0" stroke-width="5"/><circle cx="442.0" cy="79.6" r="14" fill="#ededed" stroke="#e0e0e0" stroke-width="5"/><circle cx="562.2" cy="79.6" r="16.1" fill="#e2dfe0"/><circle cx="1043.0" cy="79.6" r="16.1" fill="#e2dfe0"/><circle cx="922.8" cy="79.6" r="16.1" fill="#e2dfe0"/><circle cx="802.6" cy="79.6" r="16.1" fill="#e2dfe0"/><circle cx="682.4" cy="79.6" r="16.4" fill="#e3e1e1" stroke="#1b8fa6" stroke-width="1.5"/><line x1="562.2" y1="79.6" x2="682.4" y2="79.6" stroke="#bb4d90" stroke-width="1.5"/><polygon points="620.3,79.6 629.3,75.1 629.3,84.1" fill="#bb4d90"/><line x1="682.4" y1="79.6" x2="1043.0" y2="79.6" stroke="#26a69a" stroke-width="1.5"/><circle cx="562.2" cy="79.6" r="12.5" fill="#bb4d90"/><circle cx="1043.0" cy="79.6" r="12.5" fill="#26a69a"/><circle cx="922.8" cy="79.6" r="12.5" fill="#26a69a"/><circle cx="802.6" cy="79.6" r="12.5" fill="#26a69a"/><circle cx="682.4" cy="79.6" r="12.5" fill="#26a69a"/><line x1="187.8" y1="157.0" x2="287.2" y2="157.0" stroke="#93a2ae" stroke-width="1.2" stroke-dasharray="4.3,2.6"/><polygon points="232.0,157.0 246.5,150.8 246.5,163.2" fill="#6f93a6"/><line x1="428.1" y1="157.0" x2="522.0" y2="157.0" stroke="#93a2ae" stroke-width="1.2" stroke-dasharray="4.3,2.6"/><polygon points="469.6,157.0 484.1,150.8 484.1,163.2" fill="#6f93a6"/><path d="M114.4,142.2 V123.5 H598.5 V142.2" fill="none" stroke="#6b8a9c" stroke-width="1.3" stroke-dasharray="4.6,2.8"/><polygon points="349.5,123.5 363.5,117.3 363.5,129.7" fill="#6f93a6"/></svg><div class="abs c tag" style="left:1007.0px;top:28.5px;width:72px;height:26.0px"><span class="ltr sx" style="transform:scaleX(1.125)">۰۴/۰۷/۰۶</span></div><div class="abs c tag" style="left:886.5px;top:28.5px;width:72.5px;height:26.0px"><span class="ltr sx" style="transform:scaleX(1.134)">۰۴/۰۷/۰۶</span></div><div class="abs c tag" style="left:769.4px;top:28.5px;width:66.5px;height:26.0px"><span class="ltr sx" style="transform:scaleX(1.021)">۰۴/۱۱/۰۸</span></div><div class="abs c tag" style="left:649.9px;top:28.5px;width:65px;height:26.0px"><span class="ltr sx" style="transform:scaleX(0.992)">۰۴/۱۱/۲۶</span></div><div class="abs c pink" style="left:521.5px;top:8.6px;width:81.5px;height:46px;font-size:14px;line-height:17.5px"><span class="fa">زمان جلسه</span><span class="fa">۰۴/۱۲/۰۹</span></div><div class="abs c fa dur" style="left:577.3px;width:90px;top:58.1px;font-size:15px">۷ روز مانده</div><div class="abs c fa dur" style="left:942.9px;width:80px;top:58.6px">۵ دقیقه</div><div class="abs c fa dur" style="left:822.7px;width:80px;top:58.6px">۱۲۲ روز</div><div class="abs c fa dur" style="left:702.5px;width:80px;top:58.6px">۱۷ روز</div><div class="abs fa desc blue" style="top:110.5px"><span class="ltr">۴۷%</span> آورده نقدی، <span class="ltr">۷۷%</span> سود انباشته</div><div class="abs fa desc grey" style="top:146.5px">مجموع مراحل افزایش سرمایه:<span class="ltr">۵۷۱%</span></div><div class="abs c fa cap co" style="left:39.4px;top:142.2px;width:148.4px;height:29.6px;font-size:18.30px">۵۳۹ میلیارد تومان</div><div class="abs c fa cap cg" style="left:287.2px;top:142.2px;width:140.9px;height:29.6px;font-size:17.68px">۱۸۰ میلیارد تومان</div><div class="abs c fa cap cb" style="left:522px;top:142.2px;width:154.0px;height:29.6px;font-size:18.30px">۸۰.۳ میلیارد تومان</div><div class="abs fa caplbl" style="left:683px;top:141.2px;width:60.5px">سرمایه:</div><div class="abs c fa cpct" style="left:199.5px;width:80px;top:127.7px"><span class="ltr">۱۹۹%</span></div><div class="abs c fa cstage" style="left:197.5px;width:80px;top:165.3px">مرحله بعدی</div><div class="abs c fa cpct" style="left:437.1px;width:80px;top:127.7px"><span class="ltr">۱۲۴%</span></div><div class="abs c fa cstage" style="left:435.1px;width:80px;top:165.3px">مرحله فعلی</div><div class="abs c fa cpct" style="left:315.0px;width:80px;top:99.0px"><span class="ltr">۵۷۱%</span></div></div>
<div class="row" style="top:1739.90px;height:187.4px"><div class="card" style="height:187.4px"><div class="col" style="left:0.00px;width:120.11px;background:linear-gradient(to bottom,rgba(214,76,74,.11) 0%,rgba(214,76,74,.09) 25%,rgba(214,76,74,.0) 88%)"></div><div class="col" style="left:120.11px;width:120.11px;background:linear-gradient(to bottom,rgba(229,121,76,.2) 0%,rgba(229,121,76,.13) 35%,rgba(229,121,76,.0) 92%) left top/1px 100% no-repeat,linear-gradient(to bottom,rgba(229,121,76,.11) 0%,rgba(229,121,76,.09) 25%,rgba(229,121,76,.0) 88%)"></div><div class="col" style="left:240.22px;width:120.11px;background:linear-gradient(to bottom,rgba(241,162,87,.2) 0%,rgba(241,162,87,.13) 35%,rgba(241,162,87,.0) 92%) left top/1px 100% no-repeat,linear-gradient(to bottom,rgba(241,162,87,.11) 0%,rgba(241,162,87,.09) 25%,rgba(241,162,87,.0) 88%)"></div><div class="col" style="left:360.33px;width:120.11px;background:linear-gradient(to bottom,rgba(234,192,102,.2) 0%,rgba(234,192,102,.13) 35%,rgba(234,192,102,.0) 92%) left top/1px 100% no-repeat,linear-gradient(to bottom,rgba(234,192,102,.11) 0%,rgba(234,192,102,.09) 25%,rgba(234,192,102,.0) 88%)"></div><div class="col" style="left:480.44px;width:120.11px;background:linear-gradient(to bottom,rgba(203,196,101,.2) 0%,rgba(203,196,101,.13) 35%,rgba(203,196,101,.0) 92%) left top/1px 100% no-repeat,linear-gradient(to bottom,rgba(203,196,101,.11) 0%,rgba(203,196,101,.09) 25%,rgba(203,196,101,.0) 88%)"></div><div class="col" style="left:600.56px;width:120.11px;background:linear-gradient(to bottom,rgba(155,186,94,.2) 0%,rgba(155,186,94,.13) 35%,rgba(155,186,94,.0) 92%) left top/1px 100% no-repeat,linear-gradient(to bottom,rgba(155,186,94,.11) 0%,rgba(155,186,94,.09) 25%,rgba(155,186,94,.0) 88%)"></div><div class="col" style="left:720.67px;width:120.11px;background:linear-gradient(to bottom,rgba(99,168,95,.2) 0%,rgba(99,168,95,.13) 35%,rgba(99,168,95,.0) 92%) left top/1px 100% no-repeat,linear-gradient(to bottom,rgba(99,168,95,.11) 0%,rgba(99,168,95,.09) 25%,rgba(99,168,95,.0) 88%)"></div><div class="col" style="left:840.78px;width:120.11px;background:linear-gradient(to bottom,rgba(11,152,99,.2) 0%,rgba(11,152,99,.13) 35%,rgba(11,152,99,.0) 92%) left top/1px 100% no-repeat,linear-gradient(to bottom,rgba(11,152,99,.11) 0%,rgba(11,152,99,.09) 25%,rgba(11,152,99,.0) 88%)"></div><div class="col" style="left:960.89px;width:120.11px;background:linear-gradient(to bottom,rgba(8,124,110,.2) 0%,rgba(8,124,110,.13) 35%,rgba(8,124,110,.0) 92%) left top/1px 100% no-repeat,linear-gradient(to bottom,rgba(8,124,110,.11) 0%,rgba(8,124,110,.09) 25%,rgba(8,124,110,.0) 88%)"></div><div class="name"></div></div><div class="abs c fa nm" style="transform:scaleX(0.76)">میهن</div><div class="hr" style="top:75.2px"></div><div class="abs c pct"><span class="ltr sx" style="transform:scaleX(0.818)">۱۲۳%</span></div><div class="hr" style="top:139.4px"></div><div class="abs fa prs" style="left:1132.0px">ریال</div><div class="abs ltr prc" style="right:75.6px;transform:scaleX(0.845)">۲,۱۹۸</div><div class="abs c ts" style="top:-4.6px;width:139px"><span class="ltr sx" style="transform:scaleX(0.977)">۱۴۰۴/۱۱/۲۶ ۰۹:۰۲:۱۳</span></div><svg class="abs" style="left:0;top:0" width="1280" height="188" viewBox="0 0 1280 188"><line x1="81.4" y1="79.6" x2="1043.0" y2="79.6" stroke="#000" stroke-opacity=".045" stroke-width="1.2"/><circle cx="81.4" cy="79.6" r="14" fill="#ededed" stroke="#e0e0e0" stroke-width="5"/><circle cx="201.6" cy="79.6" r="14" fill="#ededed" stroke="#e0e0e0" stroke-width="5"/><circle cx="1043.0" cy="79.6" r="16.1" fill="#e2dfe0"/><circle cx="922.8" cy="79.6" r="16.1" fill="#e2dfe0"/><circle cx="802.6" cy="79.6" r="16.1" fill="#e2dfe0"/><circle cx="682.4" cy="79.6" r="16.1" fill="#e2dfe0"/><circle cx="442.0" cy="79.6" r="16.1" fill="#e2dfe0"/><circle cx="321.8" cy="79.6" r="16.4" fill="#e3e1e1" stroke="#1b8fa6" stroke-width="1.5"/><line x1="321.8" y1="79.6" x2="1043.0" y2="79.6" stroke="#26a69a" stroke-width="1.5"/><circle cx="1043.0" cy="79.6" r="12.5" fill="#26a69a"/><circle cx="922.8" cy="79.6" r="12.5" fill="#26a69a"/><circle cx="802.6" cy="79.6" r="12.5" fill="#26a69a"/><circle cx="682.4" cy="79.6" r="12.5" fill="#26a69a"/><circle cx="442.0" cy="79.6" r="12.5" fill="#26a69a"/><circle cx="321.8" cy="79.6" r="12.5" fill="#26a69a"/><path d="M474.8,24.1 H484.2 V43.0 H475.8" fill="none" stroke="#ff9a0a" stroke-width="1.4"/><path d="M479.8,39.7 L475.6,43.0 L479.8,45.6" fill="none" stroke="#ff9a0a" stroke-width="1.4" stroke-linecap="round"/><path d="M352.8,24.1 H362.3 V43.0 H353.8" fill="none" stroke="#ff9a0a" stroke-width="1.4"/><path d="M357.8,39.7 L353.6,43.0 L357.8,45.6" fill="none" stroke="#ff9a0a" stroke-width="1.4" stroke-linecap="round"/><line x1="266.8" y1="32.5" x2="288.3" y2="32.5" stroke="#b8b8b8" stroke-width="1.3" stroke-dasharray="4.5,2.8"/><line x1="188.0" y1="157.0" x2="285.0" y2="157.0" stroke="#93a2ae" stroke-width="1.2" stroke-dasharray="4.3,2.6"/><polygon points="231.0,157.0 245.5,150.8 245.5,163.2" fill="#6f93a6"/><line x1="429.0" y1="157.0" x2="526.0" y2="157.0" stroke="#93a2ae" stroke-width="1.2" stroke-dasharray="4.3,2.6"/><polygon points="472.0,157.0 486.5,150.8 486.5,163.2" fill="#6f93a6"/><path d="M114.3,142.2 V123.5 H600.5 V142.2" fill="none" stroke="#6b8a9c" stroke-width="1.3" stroke-dasharray="4.6,2.8"/><polygon points="353.0,123.5 367.0,117.3 367.0,129.7" fill="#6f93a6"/></svg><div class="abs c tag" style="left:1009.5px;top:28.5px;width:67px;height:26.0px"><span class="ltr sx" style="transform:scaleX(1.030)">۰۳/۱۰/۱۶</span></div><div class="abs c tag" style="left:889.5px;top:28.5px;width:66.5px;height:26.0px"><span class="ltr sx" style="transform:scaleX(1.021)">۰۳/۱۰/۱۷</span></div><div class="abs c tag" style="left:766.1px;top:28.5px;width:73px;height:26.0px"><span class="ltr sx" style="transform:scaleX(1.144)">۰۴/۰۷/۲۲</span></div><div class="abs c tag" style="left:645.4px;top:28.5px;width:74px;height:26.0px"><span class="ltr sx" style="transform:scaleX(1.163)">۰۴/۰۸/۰۷</span></div><div class="abs c tag" style="left:406.8px;top:10.7px;width:70.5px;height:43.6px"><span class="ltr sx" style="transform:scaleX(1.096)">۰۴/۱۰/۱۱</span><span class="ltr sx" style="transform:scaleX(1.096)">۰۴/۱۰/۲۵</span></div><div class="abs c tag" style="left:288.3px;top:10.7px;width:67px;height:43.6px"><span class="ltr sx" style="transform:scaleX(1.030)">۰۴/۱۱/۲۶</span><span class="ltr sx" style="transform:scaleX(1.030)">۰۴/۱۲/۱۰</span></div><div class="abs c fa pink" style="left:163.8px;top:18.5px;width:103px;height:28px">۷ روز باقیمانده</div><div class="abs c fa dur" style="left:942.9px;width:80px;top:58.6px">۱ روز</div><div class="abs c fa dur" style="left:822.7px;width:80px;top:58.6px">۲۸۰ روز</div><div class="abs c fa dur" style="left:702.5px;width:80px;top:58.6px">۱۵ روز</div><div class="abs c fa dur" style="left:522.2px;width:80px;top:58.6px">۶۳ روز</div><div class="abs c fa dur" style="left:341.9px;width:80px;top:58.6px">۴۵ روز</div><div class="abs fa desc blue" style="top:110.5px"><span class="ltr">۱۲۳%</span> آورده نقدی</div><div class="abs fa desc grey" style="top:146.5px">مجموع مراحل افزایش سرمایه:<span class="ltr">۲۹۰%</span></div><div class="abs c fa cap co" style="left:39px;top:142.2px;width:149.0px;height:29.6px;font-size:17.50px">۱۴۰۰ میلیارد تومان</div><div class="abs c fa cap cg" style="left:285px;top:142.2px;width:144.0px;height:29.6px;font-size:18.11px">۸۰۰ میلیارد تومان</div><div class="abs c fa cap cb" style="left:526px;top:142.2px;width:150.0px;height:29.6px;font-size:18.30px">۳۵۹ میلیارد تومان</div><div class="abs fa caplbl" style="left:682.5px;top:141.2px;width:61.0px">سرمایه:</div><div class="abs c fa cpct" style="left:198.5px;width:80px;top:127.7px"><span class="ltr">۷۵%</span></div><div class="abs c fa cstage" style="left:196.5px;width:80px;top:165.3px">مرحله بعدی</div><div class="abs c fa cpct" style="left:439.5px;width:80px;top:127.7px"><span class="ltr">۱۲۳%</span></div><div class="abs c fa cstage" style="left:437.5px;width:80px;top:165.3px">مرحله فعلی</div><div class="abs c fa cpct" style="left:318.5px;width:80px;top:99.0px"><span class="ltr">۲۹۰%</span></div></div>
<div class="abs wm"><span>@CodalChart</span></div>
<svg class="abs" style="left:0;top:1940px" width="1280" height="118" viewBox="0 1940 1280 118">
<polygon points="0,1948 250,1948 286,2004 1280,2004 1280,2058 0,2058" fill="#454e4a"/>
<polygon points="286,1948 420,1948 448.5,1991 312.5,1991" fill="#0a6e4f"/>
<polygon points="420,1948 549,1948 578.5,1991 448.5,1991" fill="#0d875e"/>
<polygon points="549,1948 679,1948 708,1991 578.5,1991" fill="#2dba8c"/>
<polygon points="729,1964 1280,1964 1280,1975 736,1975" fill="#249d74"/>
<rect x="15" y="2005" width="216" height="1" fill="#eeeeee"/>
</svg>
<div class="abs ltr ft1">@CodalChart</div>
<div class="abs fa ft2">کانال کدال چارت</div>
<div class="abs fa ft3">شنبه ۰۲ اسفند ۱۴۰۴ ساعت ۰۰:۱۷:۱۰</div>
</body></html>
